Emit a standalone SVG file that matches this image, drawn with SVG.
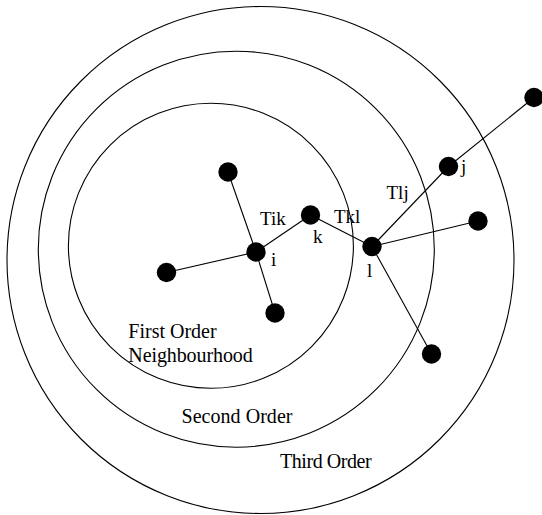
<svg xmlns="http://www.w3.org/2000/svg" width="542" height="515" viewBox="0 0 542 515">
<style>
.ring{fill:none;stroke:#000;stroke-width:1.1}
.edge{stroke:#000;stroke-width:1.1;fill:none}
.dot{fill:#000}
text{font-family:"Liberation Serif","Times New Roman",serif;font-size:19px;fill:#000}
.big{font-size:20px}
</style>
<rect width="542" height="515" fill="#fff"/>
<g id="rings">
<circle id="ring-third" class="ring" cx="260.5" cy="260" r="253.5"/>
<circle id="ring-second" class="ring" cx="236.3" cy="249.2" r="198"/>
<circle id="ring-first" class="ring" cx="210.9" cy="245.8" r="142.5"/>
</g>
<g id="connectors">
<line class="edge" x1="228" y1="172" x2="256" y2="252"/>
<line class="edge" x1="166.5" y1="272.5" x2="256" y2="252"/>
<line class="edge" x1="256" y1="252" x2="275" y2="313"/>
<line class="edge" x1="256" y1="252" x2="310.5" y2="215"/>
<line class="edge" x1="310.5" y1="215" x2="372" y2="246.5"/>
<line class="edge" x1="372" y1="246.5" x2="448.5" y2="166.5"/>
<line class="edge" x1="448.5" y1="166.5" x2="534" y2="97.5"/>
<line class="edge" x1="372" y1="246.5" x2="478" y2="221"/>
<line class="edge" x1="372" y1="246.5" x2="431.5" y2="354"/>
</g>
<g id="node-a"><circle class="dot" cx="228" cy="172" r="9.7"/></g>
<g id="node-b"><circle class="dot" cx="166.5" cy="272.5" r="9.7"/></g>
<g id="node-c"><circle class="dot" cx="275" cy="313" r="9.7"/></g>
<g id="node-i"><circle class="dot" cx="256" cy="252" r="9.7"/><text x="271" y="265.5">i</text></g>
<g id="node-k"><circle class="dot" cx="310.5" cy="215" r="9.7"/><text x="313" y="242.5">k</text></g>
<g id="node-l"><circle class="dot" cx="372" cy="246.5" r="9.7"/><text x="367" y="276.5">l</text></g>
<g id="node-j"><circle class="dot" cx="448.5" cy="166.5" r="9.7"/><text x="461" y="172.5">j</text></g>
<g id="node-d"><circle class="dot" cx="534" cy="97.5" r="9.7"/></g>
<g id="node-e"><circle class="dot" cx="478" cy="221" r="9.7"/></g>
<g id="node-f"><circle class="dot" cx="431.5" cy="354" r="9.7"/></g>
<g id="labels">
<text x="260" y="225">Tik</text>
<text x="334" y="222.5">Tkl</text>
<text x="386.5" y="199">Tlj</text>
<text class="big" x="128.3" y="338" textLength="88.3" lengthAdjust="spacing">First Order</text>
<text class="big" x="128.3" y="361.5" textLength="124.4" lengthAdjust="spacing">Neighbourhood</text>
<text class="big" x="181.5" y="423" textLength="111" lengthAdjust="spacing">Second Order</text>
<text class="big" x="280" y="468" textLength="91.7" lengthAdjust="spacing">Third Order</text>
</g>
</svg>
